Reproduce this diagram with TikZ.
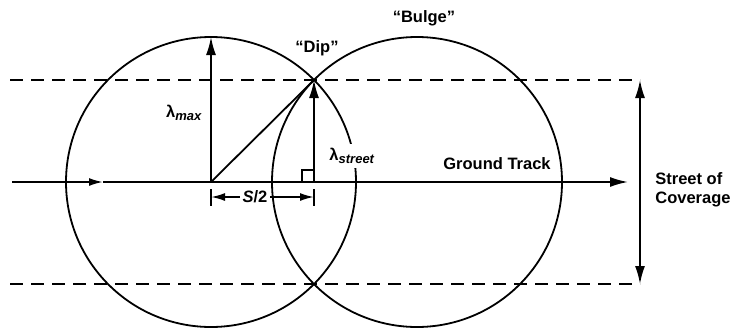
\documentclass[tikz,border=0pt]{standalone}
\usepackage{fontspec}
\setmainfont{Liberation Sans}
\usetikzlibrary{arrows.meta}
\newcommand{\lsub}[1]{\raisebox{-0.4ex}{\fontsize{13}{13}\selectfont\textit{#1}}}
\begin{document}
\begin{tikzpicture}[x=1pt,y=-1pt,line width=1.8pt,
  lbl/.style={font=\fontsize{16.5}{19}\selectfont\bfseries,inner sep=1pt},
  dashline/.style={dash pattern=on 13pt off 8pt},
  tip/.style={-{Latex[length=18pt,width=10pt]}},
  midtip/.style={-{Latex[length=14pt,width=8pt]}}]
\useasboundingbox (0,0) rectangle (737,333);
% key points
\coordinate (c1) at (211,182);
\coordinate (c2) at (417,182);
\coordinate (top1) at (211,37);
\coordinate (dip) at (314,80);
\coordinate (foot) at (314,182);
\coordinate (gl) at (12,182);
\coordinate (gm) at (103,182);
\coordinate (gr) at (628,182);
\coordinate (dtl) at (10,80);
\coordinate (dtr) at (640,80);
\coordinate (dbl) at (10,284);
\coordinate (dbr) at (640,284);
% circles
\draw (c1) circle (145pt);
\draw (c2) circle (145pt);
% dashed street edges
\draw[dashline] (dtl) -- (dtr);
\draw[dashline] (dbl) -- (dbr);
% ground track
\draw[midtip] (gl) -- (gm);
\draw[tip] (gm) -- (gr);
% street of coverage
\draw[{Latex[length=18pt,width=10pt]}-{Latex[length=18pt,width=10pt]}] (dtr) -- (dbr);
% lambda max, diagonal, lambda street
\draw[tip] (c1) -- (top1);
\draw (c1) -- (dip);
\draw[tip] (foot) -- (dip);
% right angle mark
\draw[line width=1.3pt] (302,182) -- (302,170) -- (314,170);
% S/2 dimension
\coordinate (b1t) at (211,189); \coordinate (b1b) at (211,206);
\coordinate (b2t) at (314,189); \coordinate (b2b) at (314,206);
\draw (b1t) -- (b1b);
\draw (b2t) -- (b2b);
\node[lbl,fill=white,inner xsep=2pt] (s2) at (255,197) {\textit{S}/2};
\coordinate (a1) at (211,197);
\coordinate (a2) at (314,197);
\draw[midtip] (s2.west) -- (a1);
\draw[midtip] (s2.east) -- (a2);
% labels
\node[lbl] (lmax) at (184,113) {λ\lsub{max}};
\node[lbl,fill=white,inner ysep=4pt] (lstr) at (352,156) {λ\lsub{street}};
\node[lbl] (diplbl) at (317,48) {“Dip”};
\node[lbl] (bulge) at (424,18) {“Bulge”};
\node[lbl] (gt) at (497,164) {Ground Track};
\node[lbl,align=left] (soc) at (693,190) {Street of\\Coverage};
\end{tikzpicture}
\end{document}
